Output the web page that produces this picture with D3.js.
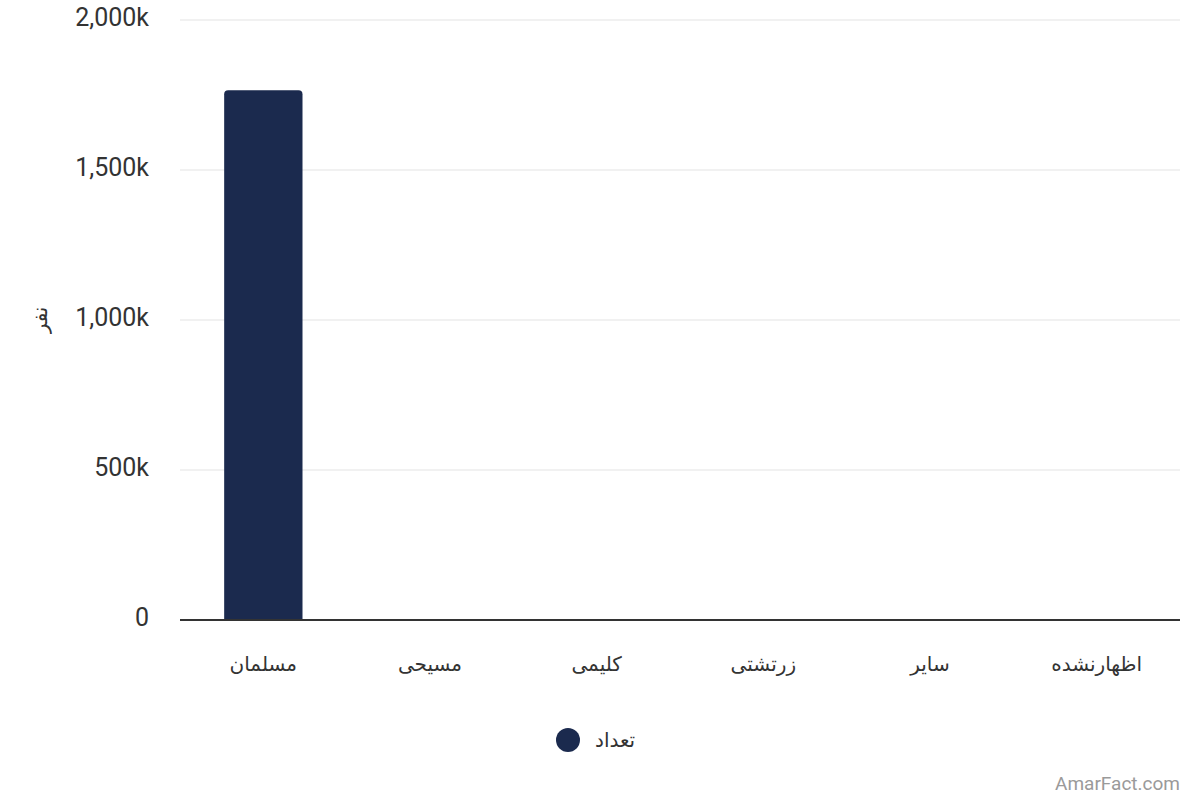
<!DOCTYPE html>
<html>
<head>
<meta charset="utf-8">
<script src="https://cdn.jsdelivr.net/npm/d3@7"></script>
<style>
  body { margin: 0; background: #fff; }
</style>
</head>
<body>
<div id="chart"></div>
<script>
// data
const categories = ["مسلمان", "مسیحی", "کلیمی", "زرتشتی", "سایر", "اظهارنشده"];
const counts = [1766000, 600, 30, 200, 300, 800];
const yTicks = [0, 500000, 1000000, 1500000, 2000000];
const seriesName = "تعداد";
const yTitle = "نفر";

const W = 1200, H = 800;
const margin = {top: 20, right: 20, bottom: 180, left: 180};
const width = W - margin.left - margin.right,
    height = H - margin.top - margin.bottom;
const barColor = "#1b2a4e";

const svg = d3.select("#chart")
    .append("svg")
    .attr("width", W)
    .attr("height", H);

const g = svg.append("g")
    .attr("transform", `translate(${margin.left}, ${margin.top})`);

const x = d3.scaleBand()
    .domain(categories)
    .range([0, width]);

const y = d3.scaleLinear()
    .domain([0, 2000000])
    .range([height, 0]);

// gridlines
g.selectAll(".grid")
    .data(yTicks.filter(d => d > 0))
    .enter().append("line")
    .attr("class", "grid")
    .attr("x1", 0)
    .attr("x2", width)
    .attr("y1", d => y(d))
    .attr("y2", d => y(d))
    .attr("stroke", "#e3e3e3")
    .attr("stroke-width", 1);

// y tick labels
g.selectAll(".ytick")
    .data(yTicks)
    .enter().append("text")
    .attr("class", "ytick")
    .attr("x", -31)
    .attr("y", d => y(d))
    .attr("dy", "0.22em")
    .attr("text-anchor", "end")
    .style("font", "25px Roboto")
    .style("fill", "#333")
    .text(d => d === 0 ? "0" : d3.format(",")(d / 1000) + "k");

// y title
svg.append("text")
    .attr("transform", `translate(40, ${margin.top + y(1000000)}) rotate(-90)`)
    .attr("text-anchor", "middle")
    .attr("dy", "0.35em")
    .style("font", "20px 'DejaVu Sans'")
    .style("fill", "#333")
    .text(yTitle);

// bars
const barW = x.bandwidth() * 0.47;
const r = 4;
g.selectAll(".bar")
    .data(counts)
    .enter().append("path")
    .attr("class", "bar")
    .attr("fill", barColor)
    .attr("d", function (d, i) {
        const x0 = x(categories[i]) + (x.bandwidth() - barW) / 2;
        const y0 = y(d), y1 = y(0);
        const h = y1 - y0;
        if (h <= 0) return "";
        const rr = Math.min(r, h);
        return `M${x0},${y1}V${y0 + rr}Q${x0},${y0} ${x0 + rr},${y0}` +
            `H${x0 + barW - rr}Q${x0 + barW},${y0} ${x0 + barW},${y0 + rr}V${y1}Z`;
    });

// baseline
g.append("line")
    .attr("x1", 0)
    .attr("x2", width)
    .attr("y1", y(0))
    .attr("y2", y(0))
    .attr("stroke", "#333")
    .attr("stroke-width", 2);

// x labels
g.selectAll(".xlabel")
    .data(categories)
    .enter().append("text")
    .attr("class", "xlabel")
    .attr("x", d => x(d) + x.bandwidth() / 2)
    .attr("y", y(0) + 44)
    .attr("dy", "0.35em")
    .attr("text-anchor", "middle")
    .style("font", "20px 'DejaVu Sans'")
    .style("fill", "#333")
    .text(d => d);

// legend
const legend = svg.append("g")
    .attr("transform", "translate(568, 740)");
legend.append("circle")
    .attr("r", 12)
    .attr("fill", barColor);
legend.append("text")
    .attr("x", 27)
    .attr("dy", "0.35em")
    .style("font", "20px 'DejaVu Sans'")
    .style("fill", "#333")
    .text(seriesName);

// watermark
svg.append("text")
    .attr("x", 1180)
    .attr("y", 790)
    .attr("text-anchor", "end")
    .style("font", "19px Roboto")
    .style("fill", "#9a9a9a")
    .text("AmarFact.com");
</script>
</body>
</html>
